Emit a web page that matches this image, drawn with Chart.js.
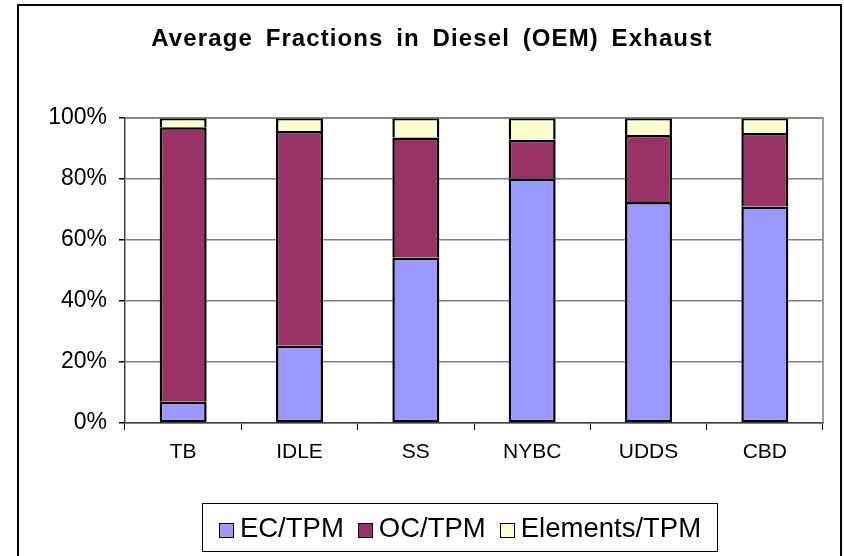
<!DOCTYPE html>
<html>
<head>
<meta charset="utf-8">
<script src="https://cdn.jsdelivr.net/npm/chart.js@4.4.0/dist/chart.umd.min.js"></script>
<style>
  html, body { margin: 0; padding: 0; background: #fff; }
  #wrap { position: relative; width: 844px; height: 556px; overflow: hidden; }
  #frame { position: absolute; left: 17px; top: 4px; width: 825px; height: 560px; border: 2px solid #000; box-sizing: border-box; pointer-events: none; }
  #legend { position: absolute; left: 202px; top: 503px; width: 516px; height: 49px; border: 1px solid #000; box-sizing: border-box;
            display: flex; align-items: center; justify-content: center; font-family: "Liberation Sans", Arial, sans-serif; font-size: 27.5px; color: #000; }
  .item { display: flex; align-items: center; margin: 0 7px; }
  .sw { width: 13px; height: 13px; border: 1.5px solid #000; margin-right: 6px; margin-top: 6px; }
</style>
</head>
<body>
<div id="wrap">
  <canvas id="c" width="844" height="556"></canvas>
  <div id="frame"></div>
  <div id="legend"></div>
</div>
<script>
const title = "Average Fractions in Diesel (OEM) Exhaust";
const categories = ["TB", "IDLE", "SS", "NYBC", "UDDS", "CBD"];
const seriesNames = ["EC/TPM", "OC/TPM", "Elements/TPM"];
const ecTPM = [7.0, 25.3, 54.3, 80.2, 72.5, 71.0];
const ocTPM = [90.0, 70.4, 39.3, 12.7, 21.9, 24.1];
const elementsTPM = [3.0, 4.3, 6.4, 7.1, 5.6, 4.9];
const yTickValues = [0, 20, 40, 60, 80, 100];
const colors = ["#9999FF", "#993366", "#FFFFCC"];

const FONT = '"Liberation Sans", Arial, sans-serif';

const seriesData = [ecTPM, ocTPM, elementsTPM];

// HTML legend from the series names
const lg = document.getElementById('legend');
seriesNames.forEach((n, i) => {
  const it = document.createElement('div'); it.className = 'item';
  const sw = document.createElement('div'); sw.className = 'sw'; sw.style.background = colors[i];
  const tx = document.createElement('span'); tx.textContent = n;
  it.appendChild(sw); it.appendChild(tx); lg.appendChild(it);
});

const plotFrame = {
  id: 'plotFrame',
  afterDraw(chart) {
    const a = chart.chartArea, ctx = chart.ctx;
    ctx.save();
    ctx.strokeStyle = '#808080';
    ctx.lineWidth = 1.5;
    ctx.beginPath();
    ctx.moveTo(a.left, a.top); ctx.lineTo(a.right, a.top); ctx.lineTo(a.right, a.bottom);
    ctx.stroke();
    ctx.restore();
  }
};

const titleSpacing = {
  id: 'titleSpacing',
  afterInit(chart) {
    const tb = chart.titleBlock;
    if (tb && !tb._patched) {
      const orig = tb.draw;
      tb.draw = function() {
        const ctx = this.ctx;
        ctx.save();
        ctx.letterSpacing = '1.1px';
        ctx.wordSpacing = '5px';
        orig.apply(this, arguments);
        ctx.restore();
      };
      tb._patched = true;
    }
  }
};

new Chart(document.getElementById('c'), {
  type: 'bar',
  data: {
    labels: categories,
    datasets: seriesNames.map((n, i) => ({
      label: n,
      data: seriesData[i],
      backgroundColor: colors[i],
      borderColor: '#000',
      borderWidth: 2.5,
      borderSkipped: i === 0 ? false : 'start',
      inflateAmount: 0,
      barPercentage: 0.404,
      categoryPercentage: 1.0
    }))
  },
  options: {
    responsive: false,
    animation: false,
    devicePixelRatio: 1,
    layout: { padding: { left: 41, right: 21, top: 0, bottom: 83 } },
    plugins: {
      legend: { display: false },
      tooltip: { enabled: false },
      title: {
        display: true,
        text: title,
        color: '#000',
        font: { family: FONT, size: 24, weight: 'bold', lineHeight: 1.2 },
        padding: { top: 25, bottom: 64.2 }
      }
    },
    scales: {
      x: {
        stacked: true,
        afterFit(s) { s.height = 50; },
        grid: { offset: true, drawOnChartArea: false, tickLength: 7, color: '#000', tickColor: '#000', lineWidth: 1 },
        border: { color: '#404040', width: 1.5 },
        ticks: { color: '#000', font: { family: FONT, size: 21 }, padding: 10 }
      },
      y: {
        stacked: true,
        min: 0, max: 100,
        afterFit(s) { s.width = 84; },
        afterBuildTicks(s) { s.ticks = yTickValues.map(v => ({ value: v })); },
        grid: { color: '#808080', lineWidth: 1.5, tickLength: 6, tickColor: '#000' },
        border: { color: '#404040', width: 1.5 },
        ticks: { color: '#000', font: { family: FONT, size: 23 }, padding: 12, callback: v => v + '%' }
      }
    }
  },
  plugins: [plotFrame, titleSpacing]
});
</script>
</body>
</html>
